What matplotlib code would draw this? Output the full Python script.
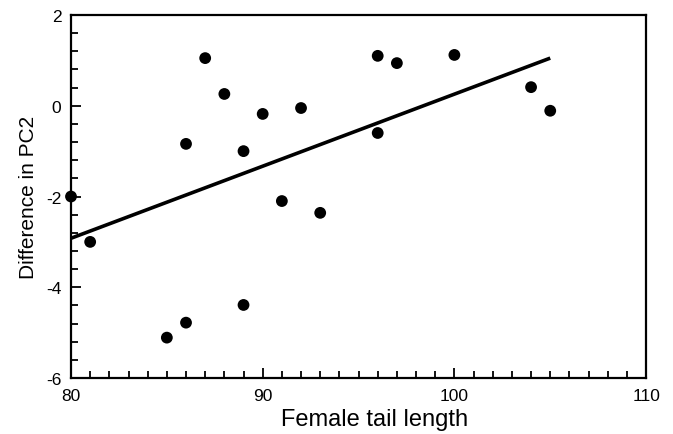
import matplotlib
matplotlib.use("Agg")
import matplotlib.pyplot as plt
from matplotlib.ticker import MultipleLocator

# female tail length vs difference in PC2
tail_length = [80, 81, 85, 86, 86, 87, 88, 89, 89, 90, 91, 92, 93, 96, 96, 97, 100, 104, 105]
pc2_diff = [-2.0, -3.0, -5.11, -4.78, -0.84, 1.05, 0.26, -1.0, -4.39, -0.18,
            -2.10, -0.05, -2.36, 1.10, -0.60, 0.94, 1.12, 0.41, -0.11]

# regression line ends
fit_x = [80, 105]
fit_y = [-2.92, 1.05]

plt.rcParams["font.family"] = ["Liberation Sans", "DejaVu Sans"]
plt.rcParams["axes.unicode_minus"] = False

fig = plt.figure(figsize=(6.73, 4.35), dpi=100)
ax = fig.add_axes([0.1055, 0.1287, 0.8545, 0.8345])

ax.plot(fit_x, fit_y, color="black", linewidth=2.6, solid_capstyle="butt", zorder=2)
ax.scatter(tail_length, pc2_diff, s=72, color="black", edgecolors="none", zorder=3, clip_on=False)

ax.set_xlim(80, 110)
ax.set_ylim(-6, 2)
ax.xaxis.set_major_locator(MultipleLocator(10))
ax.xaxis.set_minor_locator(MultipleLocator(1))
ax.yaxis.set_major_locator(MultipleLocator(2))
ax.yaxis.set_minor_locator(MultipleLocator(0.4))

ax.tick_params(which="both", direction="in", top=False, right=False, width=1.3, labelsize=12.5)
ax.tick_params(which="major", length=7, pad=7)
ax.tick_params(which="minor", length=5)
for sp in ax.spines.values():
    sp.set_linewidth(1.6)

ax.set_xlabel("Female tail length", fontsize=17)
ax.xaxis.set_label_coords(0.528, -0.083)
ax.set_ylabel("Difference in PC2", fontsize=15, labelpad=6)

fig.savefig("out.png", dpi=100)
